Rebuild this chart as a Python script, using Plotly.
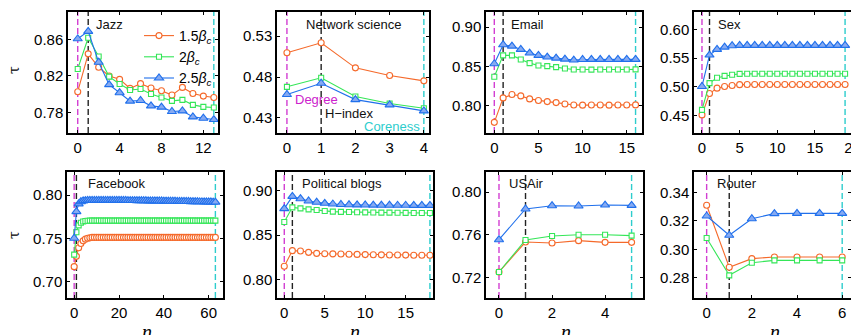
import plotly.graph_objects as go

# ---------------- data ----------------
series_names = ["1.5<i>β</i><sub><i>c</i></sub>", "2<i>β</i><sub><i>c</i></sub>", "2.5<i>β</i><sub><i>c</i></sub>"]

jazz_n = list(range(14))
jazz_15 = [0.8028, 0.8442, 0.8295, 0.8200, 0.8163, 0.8064, 0.8116, 0.8068, 0.8039, 0.7991, 0.8075, 0.8009, 0.7980, 0.7965]
jazz_20 = [0.8277, 0.8618, 0.8413, 0.8193, 0.8112, 0.8046, 0.8057, 0.8002, 0.7965, 0.7928, 0.7939, 0.7884, 0.7862, 0.7855]
jazz_25 = [0.8607, 0.8688, 0.8350, 0.8105, 0.8017, 0.7925, 0.7932, 0.7873, 0.7859, 0.7811, 0.7818, 0.7752, 0.7738, 0.7723]

ns_n = [0, 1, 2, 3, 4]
ns_15 = [0.5096, 0.5218, 0.4912, 0.4818, 0.4753]
ns_20 = [0.4680, 0.4790, 0.4561, 0.4476, 0.4418]
ns_25 = [0.4586, 0.4724, 0.4524, 0.4459, 0.4386]

email_n = list(range(17))
email_15 = [0.7792, 0.8102, 0.8144, 0.8127, 0.8089, 0.8068, 0.8055, 0.8042, 0.8025, 0.8012, 0.8010, 0.8012, 0.8011, 0.8010, 0.8011, 0.8012, 0.8013]
email_20 = [0.8369, 0.8640, 0.8640, 0.8589, 0.8542, 0.8513, 0.8504, 0.8492, 0.8475, 0.8462, 0.8462, 0.8460, 0.8461, 0.8461, 0.8462, 0.8462, 0.8463]
email_25 = [0.8534, 0.8775, 0.8758, 0.8716, 0.8670, 0.8640, 0.8619, 0.8606, 0.8593, 0.8581, 0.8588, 0.8590, 0.8590, 0.8589, 0.8590, 0.8590, 0.8590]

sex_n = list(range(20))
sex_15 = [0.4512, 0.4884, 0.4977, 0.5006, 0.5023, 0.5038, 0.5040, 0.5040, 0.5040, 0.5040, 0.5040, 0.5040, 0.5040, 0.5040, 0.5040, 0.5040, 0.5040, 0.5040, 0.5040, 0.5040]
sex_20 = [0.4599, 0.5064, 0.5157, 0.5190, 0.5210, 0.5225, 0.5227, 0.5227, 0.5227, 0.5227, 0.5227, 0.5227, 0.5227, 0.5227, 0.5227, 0.5227, 0.5227, 0.5227, 0.5227, 0.5227]
sex_25 = [0.5006, 0.5552, 0.5650, 0.5690, 0.5715, 0.5720, 0.5721, 0.5721, 0.5721, 0.5721, 0.5721, 0.5721, 0.5721, 0.5721, 0.5721, 0.5721, 0.5721, 0.5721, 0.5721, 0.5721]

fb_n = list(range(64))
fb_15 = [0.717, 0.729, 0.739, 0.744, 0.747, 0.749, 0.750, 0.7505, 0.751, 0.751, 0.751, 0.751, 0.751, 0.751, 0.751, 0.751,
         0.751, 0.751, 0.751, 0.751, 0.751, 0.751, 0.751, 0.751, 0.751, 0.751, 0.751, 0.751, 0.751, 0.751, 0.751, 0.751,
         0.751, 0.751, 0.751, 0.751, 0.751, 0.751, 0.751, 0.751, 0.751, 0.751, 0.751, 0.751, 0.751, 0.751, 0.751, 0.751,
         0.751, 0.751, 0.751, 0.751, 0.751, 0.751, 0.751, 0.751, 0.751, 0.751, 0.751, 0.751, 0.751, 0.751, 0.751, 0.751]
fb_20 = [0.731, 0.757, 0.765, 0.768, 0.7695, 0.770, 0.7703, 0.7705, 0.7705, 0.7705, 0.7705, 0.7705, 0.7705, 0.7705, 0.7705, 0.7705,
         0.7705, 0.7705, 0.7705, 0.7705, 0.7705, 0.7705, 0.7705, 0.7705, 0.7705, 0.7705, 0.7705, 0.7705, 0.7705, 0.7705, 0.7705, 0.7705,
         0.7705, 0.7705, 0.7705, 0.7705, 0.7705, 0.7705, 0.7705, 0.7705, 0.7705, 0.7705, 0.7705, 0.7705, 0.7705, 0.7705, 0.7705, 0.7705,
         0.7705, 0.7705, 0.7705, 0.7705, 0.7705, 0.7705, 0.7705, 0.7705, 0.7705, 0.7705, 0.7705, 0.7705, 0.7705, 0.7705, 0.7705, 0.7705]
fb_25 = [0.750, 0.781, 0.790, 0.7925, 0.7935, 0.7938, 0.794, 0.794, 0.794, 0.794, 0.794, 0.794, 0.794, 0.794, 0.794, 0.794,
         0.794, 0.794, 0.794, 0.794, 0.794, 0.794, 0.794, 0.794, 0.7938, 0.7938, 0.7938, 0.7938, 0.7937, 0.7937, 0.7937, 0.7936,
         0.7936, 0.7935, 0.7935, 0.7935, 0.7934, 0.7934, 0.7933, 0.7933, 0.7932, 0.7932, 0.7931, 0.7931, 0.7930, 0.7930, 0.7929, 0.7929,
         0.7928, 0.7928, 0.7927, 0.7927, 0.7926, 0.7926, 0.7925, 0.7925, 0.7924, 0.7924, 0.7923, 0.7923, 0.7922, 0.7922, 0.7921, 0.7920]

pb_n = list(range(19))
pb_15 = [0.8150, 0.8326, 0.8322, 0.8307, 0.8296, 0.8292, 0.8290, 0.8288, 0.8286, 0.8284, 0.8282, 0.8280, 0.8279, 0.8278, 0.8277, 0.8276, 0.8275, 0.8275, 0.8274]
pb_20 = [0.8648, 0.8813, 0.8801, 0.8790, 0.8783, 0.8772, 0.8765, 0.8762, 0.8760, 0.8758, 0.8756, 0.8755, 0.8754, 0.8753, 0.8752, 0.8751, 0.8750, 0.8750, 0.8749]
pb_25 = [0.8798, 0.8936, 0.8910, 0.8884, 0.8870, 0.8858, 0.8850, 0.8845, 0.8842, 0.8840, 0.8839, 0.8838, 0.8837, 0.8837, 0.8836, 0.8836, 0.8835, 0.8835, 0.8835]

usair_n = [0, 1, 2, 3, 4, 5]
usair_15 = [0.7250, 0.7531, 0.7522, 0.7544, 0.7528, 0.7528]
usair_20 = [0.7250, 0.7550, 0.7588, 0.7600, 0.7600, 0.7591]
usair_25 = [0.7553, 0.7841, 0.7872, 0.7869, 0.7878, 0.7875]

router_n = [0, 1, 2, 3, 4, 5, 6]
router_15 = [0.3311, 0.2873, 0.2934, 0.2946, 0.2946, 0.2946, 0.2946]
router_20 = [0.3080, 0.2816, 0.2905, 0.2922, 0.2922, 0.2922, 0.2922]
router_25 = [0.3235, 0.3099, 0.3216, 0.3252, 0.3254, 0.3254, 0.3254]

titles = ["Jazz", "Network science", "Email", "Sex", "Facebook", "Political blogs", "USAir", "Router"]
xs = [jazz_n, ns_n, email_n, sex_n, fb_n, pb_n, usair_n, router_n]
ys = [[jazz_15, jazz_20, jazz_25], [ns_15, ns_20, ns_25], [email_15, email_20, email_25], [sex_15, sex_20, sex_25],
      [fb_15, fb_20, fb_25], [pb_15, pb_20, pb_25], [usair_15, usair_20, usair_25], [router_15, router_20, router_25]]

# n values of the degree / H-index / coreness reference lines
degree_n = [0, 0, 0, 0, 0, 0, 0, 0]
hindex_n = [1, 1, 1, 1, 1, 1, 1, 1]
coreness_n = [13, 4, 16, 19, 63, 18, 5, 6]

xtick_vals = [[0, 4, 8, 12], [0, 1, 2, 3, 4], [0, 5, 10, 15], [0, 5, 10, 15, 20],
              [0, 20, 40, 60], [0, 5, 10, 15], [0, 2, 4], [0, 2, 4, 6]]
ytick_vals = [[0.78, 0.82, 0.86], [0.43, 0.48, 0.53], [0.80, 0.85, 0.90], [0.45, 0.50, 0.55, 0.60],
              [0.70, 0.75, 0.80], [0.80, 0.85, 0.90], [0.72, 0.76, 0.80], [0.28, 0.30, 0.32, 0.34]]

# ---------------- layout / style ----------------
# the page body has an 8px margin, so the figure is offset by (8, 8) in the window
OX, OY = 8, 8
WIN_W, WIN_H = 859, 335
W, H = WIN_W - OX, WIN_H - OY


def px_x(p):
    return (p - OX) / W


def px_y(p):
    return 1 - (p - OY) / H


xranges = [[-0.93, 13.4], [-0.29, 4.15], [-0.94, 16.73], [-1.06, 20.85],
           [-3.2, 66.4], [-0.9, 18.38], [-0.49, 5.43], [-0.56, 6.39]]
yranges = [[0.7576, 0.890], [0.4116, 0.5594], [0.7657, 0.919], [0.4198, 0.630],
           [0.6806, 0.827], [0.7794, 0.921], [0.7006, 0.8188], [0.2656, 0.3546]]
xdom_px = [[68, 218], [277, 429], [486, 642], [694, 859],
           [67, 223], [277, 433], [486, 643], [694, 851]]
ydom_px = [[12, 133]] * 4 + [[172, 298]] * 4

colors = ["#f5692a", "#35e658", "#2070ec"]
fills = ["white", "white", "#86aaf2"]
symbols = ["circle", "square", "triangle-up"]
msizes = [6, 5, 8]
MAG, BLK, CYA = "#d23fd2", "#222222", "#2dcdcd"

fig = go.Figure()
layout = dict(template="none", width=W, height=H, margin=dict(l=0, r=0, t=0, b=0, pad=0, autoexpand=False),
              paper_bgcolor="white", plot_bgcolor="white",
              font=dict(family="Liberation Sans, Arial, sans-serif", size=15, color="black"),
              showlegend=True)

shapes = []
annotations = []
for i in range(8):
    ax = "" if i == 0 else str(i + 1)
    xa, ya = "x" + ax, "y" + ax
    for s in range(3):
        fig.add_trace(go.Scatter(
            x=xs[i], y=ys[i][s], xaxis=xa, yaxis=ya, mode="lines+markers",
            name=series_names[s], showlegend=(i == 0),
            line=dict(color=colors[s], width=1.1),
            marker=dict(symbol=symbols[s], size=msizes[s], color=fills[s],
                        line=dict(color=colors[s], width=1.1))))
    x0, x1 = xdom_px[i]
    yt, yb = ydom_px[i]
    layout["xaxis" + ax] = dict(domain=[px_x(x0), min(px_x(x1), 1.0)], anchor=ya, range=xranges[i],
                                tickvals=xtick_vals[i], ticks="inside", ticklen=3, tickwidth=1,
                                tickcolor="black", automargin=False, ticklabeloverflow="allow",
                                showline=True, linecolor="black", linewidth=1.5, mirror="ticks",
                                showgrid=False, zeroline=False, tickfont=dict(size=15))
    layout["yaxis" + ax] = dict(domain=[px_y(yb), px_y(yt)], anchor=xa, range=yranges[i],
                                tickvals=ytick_vals[i], tickformat=".2f", ticks="inside", ticklen=3,
                                tickwidth=1, tickcolor="black", automargin=False,
                                showline=True, linecolor="black", linewidth=1.5,
                                mirror=("ticks" if i != 3 else False),
                                showgrid=False, zeroline=False, tickfont=dict(size=15))
    for val, col in ((degree_n[i], MAG), (hindex_n[i], BLK), (coreness_n[i], CYA)):
        shapes.append(dict(type="line", xref=xa, yref=ya + " domain", x0=val, x1=val, y0=0, y1=1,
                           line=dict(color=col, width=1.4, dash="6px,3px"), layer="below"))

# panel titles
title_pos = [(0.175, 0.90, "left"), (0.5, 0.90, "center"), (0.147, 0.90, "left"), (0.133, 0.90, "left"),
             (0.122, 0.905, "left"), (0.147, 0.905, "left"), (0.134, 0.905, "left"), (0.134, 0.905, "left")]
for i in range(8):
    ax = "" if i == 0 else str(i + 1)
    tx, ty, anc = title_pos[i]
    annotations.append(dict(text=titles[i], xref="x" + ax + " domain", yref="y" + ax + " domain",
                            x=tx, y=ty, xanchor=anc, yanchor="middle", showarrow=False,
                            font=dict(size=13, color="#111111")))

# method labels in Network science panel
annotations += [
    dict(text="Degree", xref="x2", yref="y2", x=0.17, y=0.4522, xanchor="left", yanchor="middle",
         showarrow=False, font=dict(size=13, color="#cc22cc")),
    dict(text="H\u2212index", xref="x2", yref="y2", x=1.05, y=0.4350, xanchor="left", yanchor="middle",
         showarrow=False, font=dict(size=13, color="#111111")),
    dict(text="Coreness", xref="x2", yref="y2", x=3.95, y=0.4190, xanchor="right", yanchor="middle",
         showarrow=False, font=dict(size=13, color=CYA)),
]

# axis labels
for yc in (70, 235):
    annotations.append(dict(text="τ", xref="paper", yref="paper", x=px_x(14), y=px_y(yc),
                            xanchor="center", yanchor="middle", textangle=-90, showarrow=False,
                            font=dict(size=14, family="DejaVu Serif")))
for xc in (147, 355, 566, 775):
    annotations.append(dict(text="<i>n</i>", xref="paper", yref="paper", x=px_x(xc), y=px_y(319),
                            xanchor="center", yanchor="top", showarrow=False,
                            font=dict(size=20, family="Liberation Serif")))

layout["shapes"] = shapes
layout["annotations"] = annotations
layout["legend"] = dict(x=px_x(139), y=px_y(20), xanchor="left", yanchor="top",
                        bgcolor="rgba(0,0,0,0)", font=dict(size=14), tracegroupgap=0,
                        itemwidth=30)
fig.update_layout(**layout)
fig.write_html("out.html")
